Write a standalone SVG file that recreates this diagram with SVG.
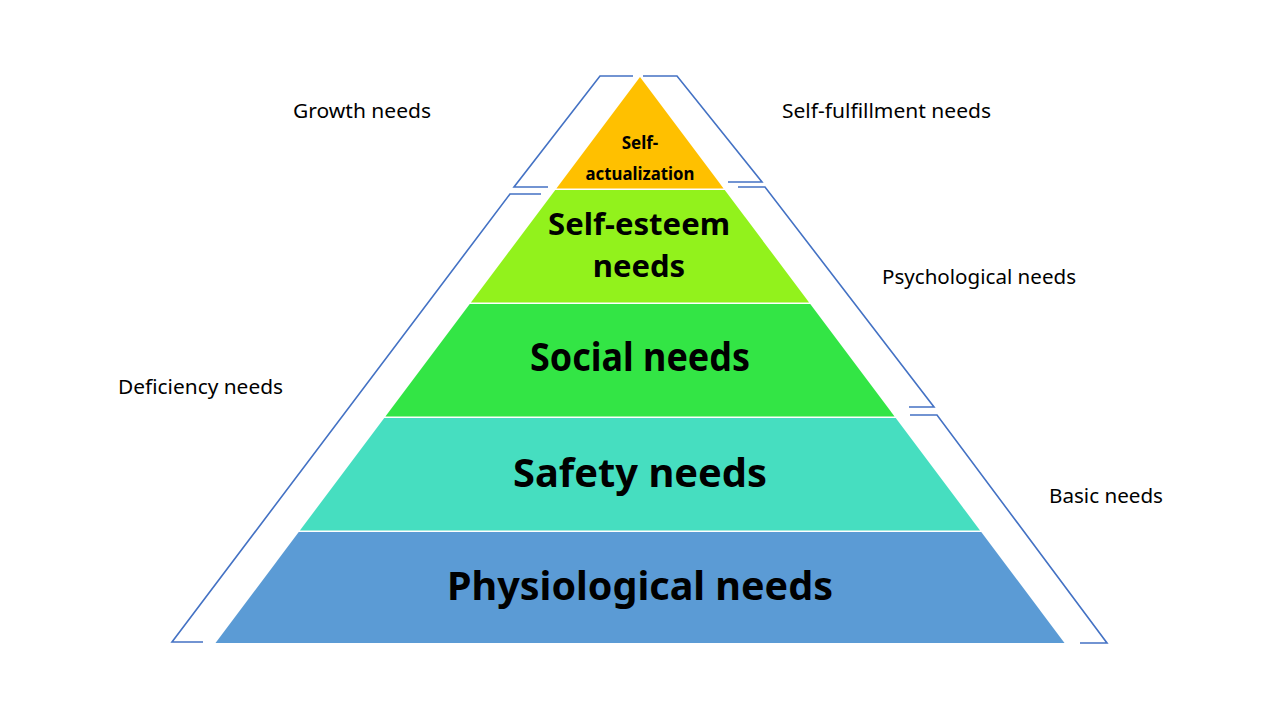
<svg xmlns="http://www.w3.org/2000/svg" width="1280" height="720" viewBox="0 0 1280 720">
<style>
.side{font-family:"Noto Sans","Open Sans",sans-serif;font-size:20px;fill:#000}
.big{font-family:"Noto Sans","Open Sans",sans-serif;font-weight:bold;fill:#000;text-anchor:middle}
.br{fill:none;stroke:#4472C4;stroke-width:1.6;stroke-linejoin:miter}
</style>
<rect width="1280" height="720" fill="#fff"/>
<g id="connectors">
<polyline class="br" points="633,76 600,76 514,187 548,187"/>
<polyline class="br" points="643,76 677,76 762,182 728,182"/>
<polyline class="br" points="541,194 510,194 172,642 203,642"/>
<polyline class="br" points="738,187 765,187 934,407 909,407"/>
<polyline class="br" points="910,415 937,415 1107,643 1080,643"/>
</g>
<g id="self-actualization">
<polygon points="640,77 723.6,188.5 556.4,188.5" fill="#FFC000"/>
<text class="big" x="640" y="149" font-size="17">Self-</text>
<text class="big" x="640" y="180" font-size="17" textLength="109" lengthAdjust="spacingAndGlyphs">actualization</text>
</g>
<g id="self-esteem">
<polygon points="555.25,190 724.75,190 809.1,302.5 470.9,302.5" fill="#92F21C"/>
<text class="big" x="639" y="235" font-size="31" textLength="182" lengthAdjust="spacingAndGlyphs">Self-esteem</text>
<text class="big" x="639" y="277" font-size="31">needs</text>
</g>
<g id="social">
<polygon points="469.75,304 810.25,304 894.6,416.5 385.4,416.5" fill="#33E545"/>
<text class="big" x="640" y="371" font-size="39" textLength="220" lengthAdjust="spacingAndGlyphs">Social needs</text>
</g>
<g id="safety">
<polygon points="384.25,418 895.75,418 980.1,530.5 299.9,530.5" fill="#46DEC0"/>
<text class="big" x="640" y="487" font-size="39" textLength="254" lengthAdjust="spacingAndGlyphs">Safety needs</text>
</g>
<g id="physiological">
<polygon points="298.75,532 981.25,532 1064.5,643 215.5,643" fill="#5B9BD5"/>
<text class="big" x="640" y="600" font-size="39" textLength="386" lengthAdjust="spacingAndGlyphs">Physiological needs</text>
</g>
<g id="labels">
<text class="side" x="293" y="118" textLength="138" lengthAdjust="spacingAndGlyphs">Growth needs</text>
<text class="side" x="782" y="118" textLength="209" lengthAdjust="spacingAndGlyphs">Self-fulfillment needs</text>
<text class="side" x="882" y="284" textLength="194" lengthAdjust="spacingAndGlyphs">Psychological needs</text>
<text class="side" x="118" y="394" textLength="165" lengthAdjust="spacingAndGlyphs">Deficiency needs</text>
<text class="side" x="1049" y="503" textLength="114" lengthAdjust="spacingAndGlyphs">Basic needs</text>
</g>
</svg>
